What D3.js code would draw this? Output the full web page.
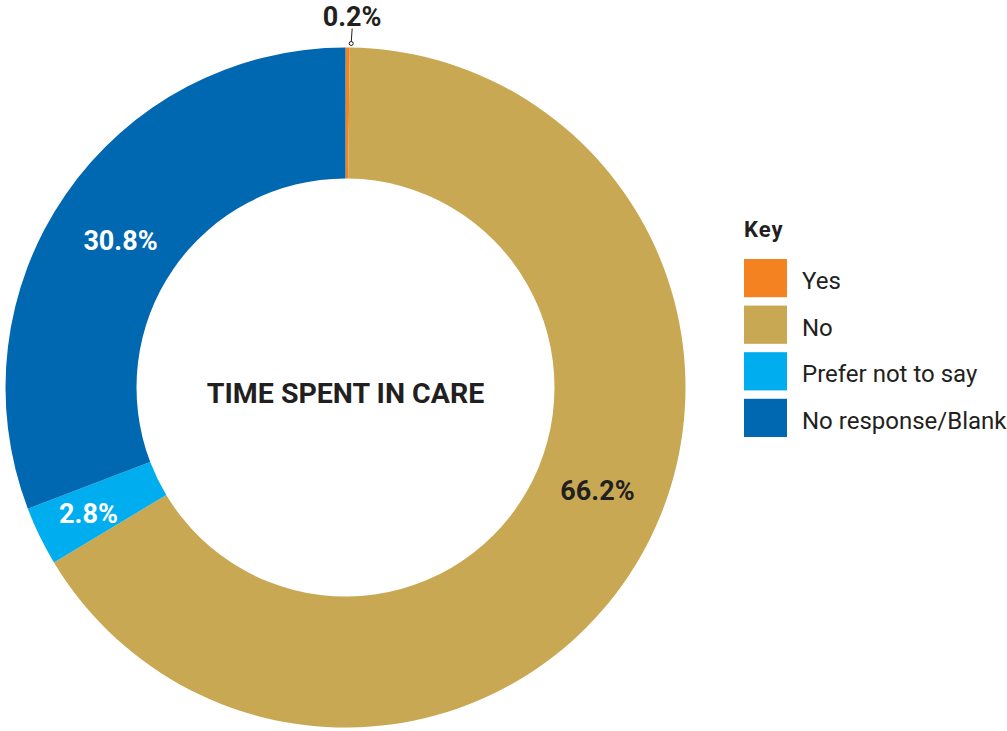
<!DOCTYPE html>
<html><head><meta charset="utf-8">
<script src="https://cdn.jsdelivr.net/npm/d3@7"></script>
<style>html,body{margin:0;padding:0;background:#fff;}svg{display:block;font-family:Roboto,"DejaVu Sans",sans-serif;}</style>
</head><body>
<svg id="chart" width="1007" height="731"></svg>
<script>
const categories = ["Yes", "No", "Prefer not to say", "No response/Blank"];
const values = [0.2, 66.2, 2.8, 30.8];
const labels = ["0.2%", "66.2%", "2.8%", "30.8%"];
const colors = ["#F58220", "#C9A854", "#00AEEF", "#0067B1"];
const labelColors = ["#231F20", "#231F20", "#ffffff", "#ffffff"];
const title = "TIME SPENT IN CARE";

const svg = d3.select("#chart");
const cx = 345.5, cy = 387.5, rOuter = 340, rInner = 209;
const g = svg.append("g").attr("transform", `translate(${cx},${cy})`);
const data = categories.map((c, i) => ({cat: c, value: values[i], label: labels[i], color: colors[i], lc: labelColors[i]}));
const pie = d3.pie().value(d => d.value).sort(null);
const arcs = pie(data);
const arc = d3.arc().innerRadius(rInner).outerRadius(rOuter);
g.selectAll("path.slice").data(arcs).join("path").attr("class", "slice")
  .attr("d", arc).attr("fill", d => d.data.color);

// labels
const labelArc = d3.arc().innerRadius(275).outerRadius(275);
arcs.forEach((a, i) => {
  if (i === 0) {
    const mid = (a.startAngle + a.endAngle) / 2;
    const x = Math.sin(mid) * (rOuter + 4) + 3.5, y = -Math.cos(mid) * (rOuter + 4);
    g.append("line").attr("x1", x).attr("y1", y).attr("x2", x + 1).attr("y2", y - 15)
      .attr("stroke", "#231F20").attr("stroke-width", 1);
    g.append("circle").attr("cx", x).attr("cy", y).attr("r", 2)
      .attr("fill", "#fff").attr("stroke", "#231F20").attr("stroke-width", 1);
    g.append("text").attr("x", x + 1).attr("y", y - 18).attr("text-anchor", "middle")
      .attr("font-size", 27).attr("font-weight", "bold").attr("fill", a.data.lc).text(a.data.label);
  } else {
    const pos = {1: [252, 103], 2: [-257, 126], 3: [-225, -147]}[i];
    const c = labelArc.centroid(a);
    g.append("text").attr("x", pos ? pos[0] : c[0]).attr("y", pos ? pos[1] : c[1])
      .attr("text-anchor", "middle").attr("dominant-baseline", "central")
      .attr("font-size", 27).attr("font-weight", "bold").attr("fill", a.data.lc).text(a.data.label);
  }
});

g.append("text").attr("x", 0).attr("y", 6).attr("text-anchor", "middle").attr("dominant-baseline", "central")
  .attr("font-size", 28.5).attr("font-weight", "bold").attr("fill", "#231F20").text(title);

// legend
const leg = svg.append("g");
leg.append("text").attr("x", 744).attr("y", 237).attr("font-size", 22).attr("font-weight", "bold")
  .attr("letter-spacing", 1).attr("fill", "#231F20").text("Key");
const y = d3.scaleBand().domain(categories).range([259, 437]).paddingInner(0.18).paddingOuter(0);
leg.selectAll("rect").data(data).join("rect")
  .attr("x", 744).attr("y", d => y(d.cat)).attr("width", 43).attr("height", y.bandwidth())
  .attr("fill", d => d.color);
leg.selectAll("text.item").data(data).join("text").attr("class", "item")
  .attr("x", 802).attr("y", d => y(d.cat) + y.bandwidth() / 2 + 3)
  .attr("dominant-baseline", "central").attr("font-size", 24).attr("fill", "#231F20")
  .text(d => d.cat);
</script>
</body></html>
